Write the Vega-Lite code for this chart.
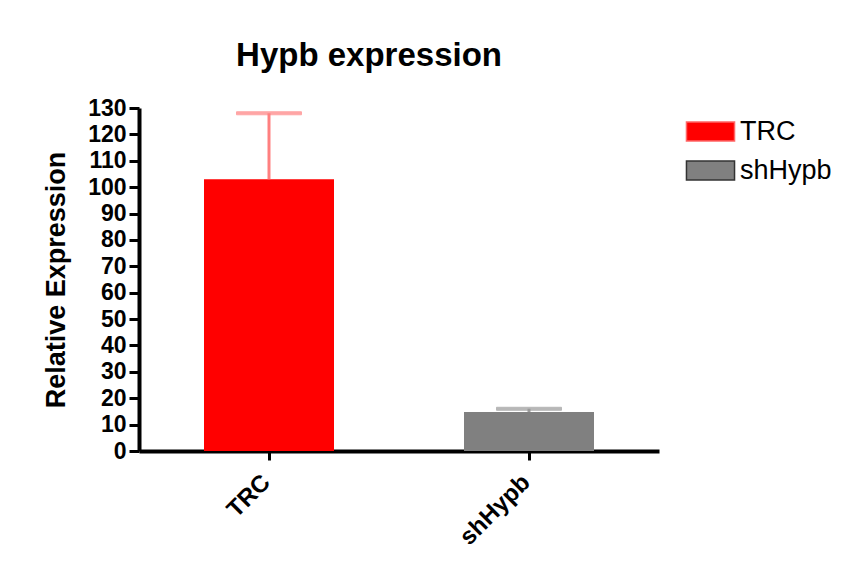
{
  "$schema": "https://vega.github.io/schema/vega-lite/v6.json",
  "width": 520,
  "height": 343,
  "autosize": "none",
  "padding": {"left": 139, "top": 108, "right": 189, "bottom": 118},
  "background": "white",
  "title": {
    "text": "Hypb expression",
    "font": "Liberation Sans",
    "fontSize": 33,
    "fontWeight": "bold",
    "color": "black",
    "anchor": "middle",
    "dx": -30,
    "offset": 24
  },
  "data": {
    "values": [
      {"group": "TRC", "value": 103, "upper": 128},
      {"group": "shHypb", "value": 14.8, "upper": 16}
    ]
  },
  "encoding": {
    "x": {
      "field": "group",
      "type": "nominal",
      "sort": ["TRC", "shHypb"],
      "scale": {"paddingInner": 0.5, "paddingOuter": 0.25},
      "axis": {
        "title": null,
        "labelAngle": -45,
        "labelFont": "Liberation Sans",
        "labelFontSize": 24,
        "labelFontWeight": "bold",
        "labelColor": "black",
        "labelPadding": 10,
        "labelOffset": -11,
        "domainColor": "black",
        "domainWidth": 4,
        "tickColor": "black",
        "tickWidth": 3,
        "tickSize": 9
      }
    }
  },
  "layer": [
    {
      "mark": {"type": "bar"},
      "encoding": {
        "y": {
          "field": "value",
          "type": "quantitative",
          "scale": {"domain": [0, 130], "nice": false},
          "axis": {
            "title": "Relative Expression",
            "values": [0,10,20,30,40,50,60,70,80,90,100,110,120,130],
            "labelOverlap": false
          }
        },
        "color": {
          "field": "group",
          "type": "nominal",
          "sort": ["TRC", "shHypb"],
          "scale": {"domain": ["TRC", "shHypb"], "range": ["#ff0000", "#808080"]},
          "legend": {
            "title": null,
            "orient": "none",
            "legendX": 558,
            "legendY": 10,
            "symbolType": "M-2.53,-1L2.53,-1L2.53,1L-2.53,1Z",
            "symbolSize": 361,
            "symbolStrokeWidth": 1.5,
            "labelFont": "Liberation Sans",
            "labelFontSize": 27,
            "labelColor": "black",
            "labelOffset": 16,
            "rowPadding": 11,
            "encode": {
              "symbols": {
                "update": {
                  "stroke": [
                    {"test": "datum.value === 'shHypb'", "value": "#333333"},
                    {"value": "#ff6666"}
                  ]
                }
              }
            }
          }
        }
      }
    },
    {
      "mark": {"type": "rule", "strokeWidth": 3},
      "encoding": {
        "y": {
          "field": "value",
          "type": "quantitative",
          "axis": {
            "title": "Relative Expression",
            "values": [0,10,20,30,40,50,60,70,80,90,100,110,120,130],
            "labelOverlap": false
          }
        },
        "y2": {"field": "upper"},
        "stroke": {
          "field": "group",
          "type": "nominal",
          "scale": {"domain": ["TRC", "shHypb"], "range": ["#ff8080", "#999999"]},
          "legend": null
        }
      }
    },
    {
      "mark": {"type": "tick", "thickness": 3, "size": 65},
      "encoding": {
        "y": {
          "field": "upper",
          "type": "quantitative",
          "axis": {
            "title": "Relative Expression",
            "values": [0,10,20,30,40,50,60,70,80,90,100,110,120,130],
            "labelOverlap": false
          }
        },
        "stroke": {
          "field": "group",
          "type": "nominal",
          "scale": {"domain": ["TRC", "shHypb"], "range": ["#ff8080", "#999999"]},
          "legend": null
        },
        "fill": {
          "field": "group",
          "type": "nominal",
          "scale": {"domain": ["TRC", "shHypb"], "range": ["#ff8080", "#999999"]},
          "legend": null
        }
      }
    }
  ],
  "resolve": {"scale": {"stroke": "independent"}},
  "config": {
    "view": {"stroke": null},
    "axisY": {
      "titleFont": "Liberation Sans",
      "titleFontSize": 27,
      "titleFontWeight": "bold",
      "titleColor": "black",
      "titlePadding": 17,
      "labelFont": "Liberation Sans",
      "labelFontSize": 23,
      "labelFontWeight": "bold",
      "labelColor": "black",
      "labelPadding": 3,
      "grid": false,
      "domainColor": "black",
      "domainWidth": 4,
      "tickColor": "black",
      "tickWidth": 3,
      "tickSize": 10
    }
  }
}
